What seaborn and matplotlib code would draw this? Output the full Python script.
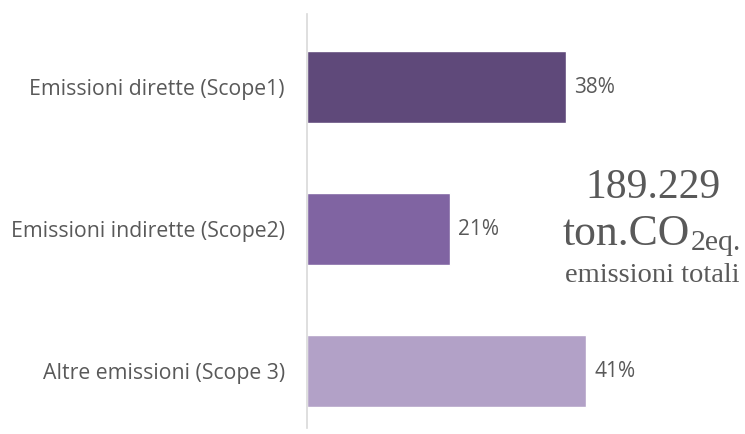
import matplotlib
matplotlib.use("Agg")
import matplotlib.pyplot as plt
import seaborn as sns
import pandas as pd

categories = ["Emissioni dirette (Scope1)", "Emissioni indirette (Scope2)", "Altre emissioni (Scope 3)"]
shares = [38, 21, 41]
colors = ["#5f497a", "#8064a2", "#b2a1c7"]
total_value = "189.229"
total_unit = "ton.CO"
total_sub = "2eq."
total_caption = "emissioni totali"

sns.set_theme(style="white")
plt.rcParams["font.family"] = ["Open Sans", "DejaVu Sans"]
text_gray = "#595959"

df = pd.DataFrame({"cat": categories, "share": shares})

W, H = 745, 434
fig = plt.figure(figsize=(W / 100, H / 100), dpi=100)
ax = fig.add_axes([307 / W, 1 - 428 / H, 438 / W, 414 / H])

sns.barplot(data=df, y="cat", x="share", hue="cat", palette=colors,
            order=categories, hue_order=categories, orient="h",
            width=0.51, legend=False, ax=ax, saturation=1)

ax.set_xlim(0, 64.3)
ax.set_ylim(2.40, -0.514)
ax.set_xlabel("")
ax.set_ylabel("")
ax.set_xticks([])
for s in ["top", "right", "bottom"]:
    ax.spines[s].set_visible(False)
ax.spines["left"].set_color("#d9d9d9")
ax.spines["left"].set_linewidth(1.2)
ax.tick_params(axis="y", length=0, pad=16, labelsize=15.3, labelcolor=text_gray)

for i, v in enumerate(shares):
    ax.annotate(f"{v}%", (v, i), xytext=(6, 0), textcoords="offset points",
                va="center", ha="left", fontsize=15, color=text_gray)

serif = ["Liberation Serif", "DejaVu Serif"]


def px(x, y):
    return x / W, 1 - y / H


fig.text(*px(653, 198), total_value, ha="center", va="baseline",
         fontsize=30, color=text_gray, family=serif)
unit = fig.text(*px(563, 245), total_unit, ha="left", va="baseline",
                fontsize=31.5, color=text_gray, family=serif)
fig.canvas.draw()
unit_right = unit.get_window_extent().x1
fig.text(unit_right / W, 1 - 250 / H, total_sub, ha="left", va="baseline",
         fontsize=21.5, color=text_gray, family=serif)
fig.text(*px(652, 282), total_caption, ha="center", va="baseline",
         fontsize=20.5, color=text_gray, family=serif)

fig.savefig("out.png", dpi=100)
